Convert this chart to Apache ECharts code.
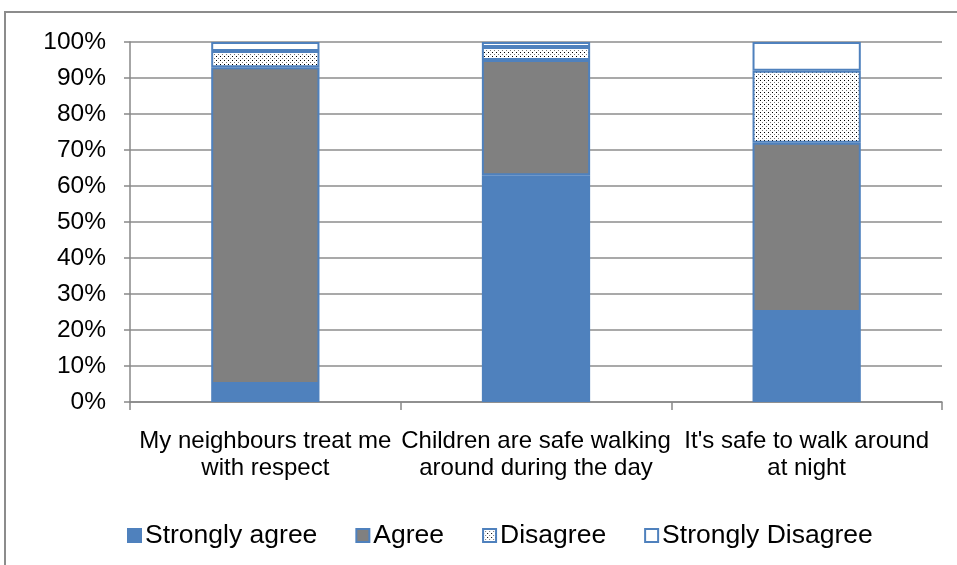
<!DOCTYPE html>
<html>
<head>
<meta charset="utf-8">
<script src="https://cdn.jsdelivr.net/npm/echarts@6/dist/echarts.min.js"></script>
<style>
  html, body { margin: 0; padding: 0; background: #fff; }
  #main { width: 957px; height: 565px; }
</style>
</head>
<body>
<div id="main"></div>
<script>
var categories = ['My neighbours treat me\nwith respect', 'Children are safe walking\naround during the day', "It's safe to walk around\nat night"];
var stronglyAgree = [5, 63, 25];
var agree = [88, 32, 47];
var disagree = [4.5, 3.6, 20];
var stronglyDisagree = [2.5, 1.4, 8];
var yTicks = [0, 10, 20, 30, 40, 50, 60, 70, 80, 90, 100];

// dotted fill for "Disagree"
function dotPattern() {
  var c = document.createElement('canvas');
  c.width = 4; c.height = 4;
  var ctx = c.getContext('2d');
  ctx.fillStyle = '#fff';
  ctx.fillRect(0, 0, 4, 4);
  ctx.fillStyle = '#000';
  ctx.fillRect(0, 0, 1, 1);
  ctx.fillStyle = '#777';
  ctx.fillRect(2, 2, 1, 1);
  return c;
}
var dots = { image: dotPattern(), repeat: 'repeat' };

var blue = '#4F81BD';
var font = 'Liberation Sans, Arial, sans-serif';

var chart = echarts.init(document.getElementById('main'));

function seg(name, data, fill) {
  return {
    name: name,
    type: 'bar',
    stack: 'total',
    barWidth: '40%',
    data: data,
    itemStyle: { color: fill, borderColor: blue, borderWidth: 2 },
    emphasis: { disabled: true }
  };
}

chart.setOption({
  animation: false,
  graphic: [{
    type: 'rect',
    shape: { x: 5, y: 12, width: 970, height: 570 },
    style: { fill: 'none', stroke: '#8c8c8c', lineWidth: 2 },
    silent: true
  }],
  grid: { left: 130, right: 15, top: 42, bottom: 163 },
  legend: {
    top: 517,
    left: 122,
    icon: 'rect',
    itemWidth: 13,
    itemHeight: 13,
    itemGap: 38,
    textStyle: { fontFamily: font, fontSize: 26.5, color: '#000', padding: [0, 0, 0, -1] },
    data: ['Strongly agree', 'Agree', 'Disagree', 'Strongly Disagree']
  },
  xAxis: {
    type: 'category',
    data: categories,
    axisLine: { lineStyle: { color: '#888', width: 1.5 } },
    axisTick: { show: true, length: 8, lineStyle: { color: '#888', width: 1.5 } },
    axisLabel: {
      fontFamily: font, fontSize: 24, color: '#000', margin: 26, lineHeight: 27,
      interval: 0
    }
  },
  yAxis: {
    type: 'value',
    min: 0,
    max: 100,
    interval: 10,
    axisLine: { show: true, lineStyle: { color: '#888', width: 1.5 } },
    axisTick: { show: true, length: 6, lineStyle: { color: '#888', width: 1.5 } },
    splitLine: { lineStyle: { color: '#8c8c8c', width: 1.5 } },
    axisLabel: {
      fontFamily: font, fontSize: 24.5, color: '#000', margin: 24,
      formatter: function (v) { return yTicks.indexOf(v) >= 0 ? v + '%' : ''; }
    }
  },
  series: [
    seg('Strongly agree', stronglyAgree, blue),
    seg('Agree', agree, '#808080'),
    seg('Disagree', disagree, dots),
    seg('Strongly Disagree', stronglyDisagree, '#fff')
  ]
});
</script>
</body>
</html>
